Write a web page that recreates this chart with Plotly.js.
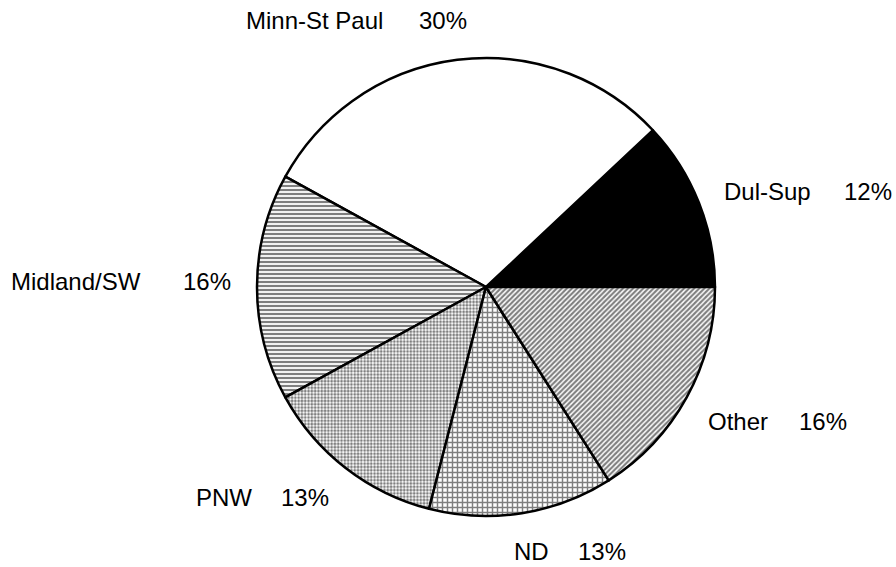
<!DOCTYPE html>
<html>
<head>
<meta charset="utf-8">
<script src="https://cdn.plot.ly/plotly-3.0.1.min.js"></script>
<style>html,body{margin:0;padding:0;background:#fff;}#chart{width:896px;height:567px;}</style>
</head>
<body>
<div id="chart"></div>
<script>
const labels = ["Dul-Sup", "Minn-St Paul", "Midland/SW", "PNW", "ND", "Other"];
const shares = [12, 30, 16, 13, 13, 16];
const pctLabels = ["12%", "30%", "16%", "13%", "13%", "16%"];

// styles (not data)
const fillColors = ["#000000", "#ffffff", "#ffffff", "#ffffff", "#ffffff", "#ffffff"];
const patShapes = ["", "", "-", ".", "+", "/"];
const patSizes = [4, 4, 4, 3.3, 5, 3.6];
const patSolid = [0.3, 0.3, 0.55, 0.55, 0.5, 0.6];

// label placement (px, left edge of name, left edge of percent, vertical centre)
const W = 896, H = 567;
const labelPos = [
  [723, 843, 191.5],
  [245, 418, 20.5],
  [10, 182, 281.5],
  [195, 280, 497],
  [513, 577, 551],
  [707, 798, 421]
];

const annotations = [];
labels.forEach((lab, i) => {
  const p = labelPos[i];
  annotations.push({text: lab, x: p[0] / W, y: 1 - p[2] / H, xref: "paper", yref: "paper",
    xanchor: "left", yanchor: "middle", showarrow: false, borderpad: 0,
    font: {family: "Liberation Sans, Arial, sans-serif", size: 24, color: "#000"}});
  annotations.push({text: pctLabels[i], x: p[1] / W, y: 1 - p[2] / H, xref: "paper", yref: "paper",
    xanchor: "left", yanchor: "middle", showarrow: false, borderpad: 0,
    font: {family: "Liberation Sans, Arial, sans-serif", size: 24, color: "#000"}});
});

const trace = {
  type: "pie",
  labels: labels,
  values: shares,
  sort: false,
  direction: "counterclockwise",
  rotation: 46.8,
  textinfo: "none",
  hoverinfo: "none",
  showlegend: false,
  domain: {x: [257 / W, 715 / W], y: [51 / H, 509 / H]},
  marker: {
    colors: fillColors,
    line: {color: "#000", width: 2.5},
    pattern: {
      shape: patShapes,
      size: patSizes,
      solidity: patSolid,
      fgcolor: "#000000",
      bgcolor: "#ffffff",
      fillmode: "overlay"
    }
  }
};

const layout = {
  width: W, height: H,
  margin: {l: 0, r: 0, t: 0, b: 0},
  paper_bgcolor: "#fff",
  plot_bgcolor: "#fff",
  showlegend: false,
  annotations: annotations
};

Plotly.newPlot("chart", [trace], layout, {displayModeBar: false, staticPlot: true});
</script>
</body>
</html>
